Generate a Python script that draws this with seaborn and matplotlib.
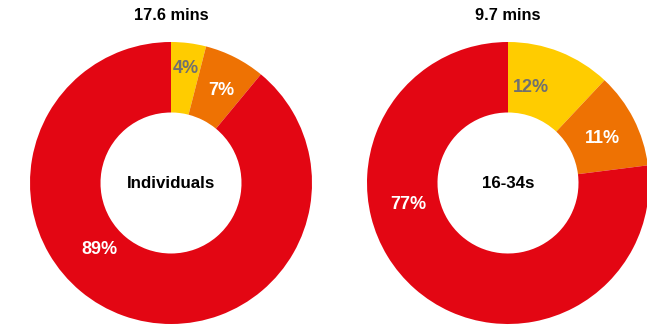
import numpy as np
import seaborn as sns
import matplotlib.pyplot as plt

sns.set_theme(style="white")
plt.rcParams['font.family'] = ['Liberation Sans', 'DejaVu Sans']

# data
titles = ['17.6 mins', '9.7 mins']
centre_labels = ['Individuals', '16-34s']
shares_individuals = [4, 7, 89]
shares_16_34 = [12, 11, 77]
colors = ['#FFCC00', '#EE7203', '#E30613']
text_colors = ['#707070', 'white', 'white']

# label placement (angle clockwise from 12 o'clock, fraction of radius)
label_pos = [
    [(7.5, 0.82), (28.7, 0.75), (227, 0.69)],
    [(13.5, 0.70), (65, 0.74), (258, 0.72)],
]

fig = plt.figure(figsize=(6.47, 3.25), dpi=100)
boxes = [[30 / 647, 1 / 325, 282 / 647, 282 / 325],
         [367 / 647, 1 / 325, 282 / 647, 282 / 325]]

for i, shares in enumerate([shares_individuals, shares_16_34]):
    ax = fig.add_axes(boxes[i])
    ax.pie(shares, colors=colors, startangle=90, counterclock=False,
           radius=1, wedgeprops=dict(width=0.5, linewidth=0))
    ax.set_xlim(-1, 1)
    ax.set_ylim(-1, 1)
    ax.set_aspect('equal')
    ax.axis('off')
    for v, (ang, r), tc in zip(shares, label_pos[i], text_colors):
        a = np.deg2rad(ang)
        ax.text(r * np.sin(a), r * np.cos(a), f'{v}%', ha='center', va='center',
                color=tc, fontsize=13, fontweight='bold')
    ax.text(0, 0, centre_labels[i], ha='center', va='center', color='black',
            fontsize=12.2, fontweight='bold')
    cx = boxes[i][0] + boxes[i][2] / 2
    fig.text(cx, 1 - 15 / 325, titles[i], ha='center', va='center',
             color='black', fontsize=11.8, fontweight='bold')

fig.savefig('out.png', dpi=100)
